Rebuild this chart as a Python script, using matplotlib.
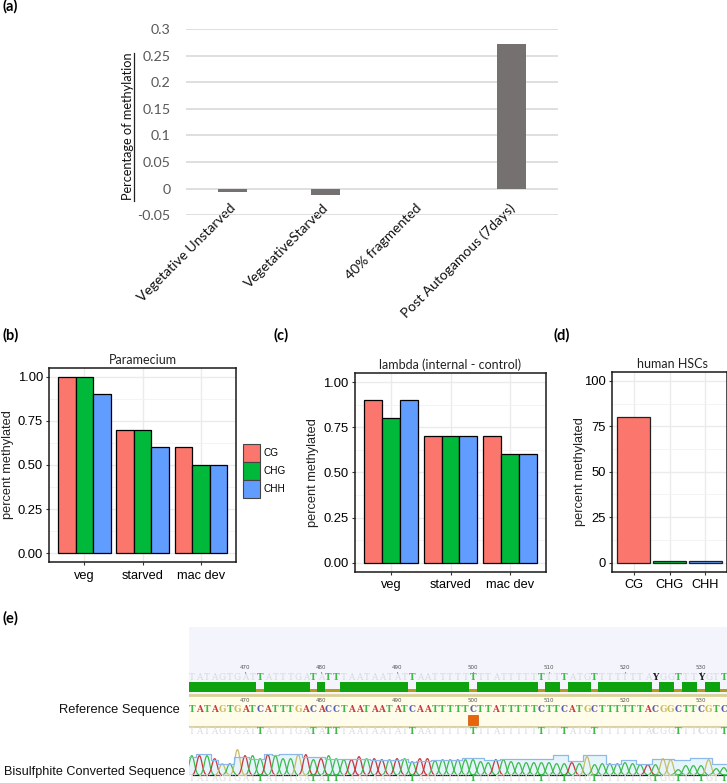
import matplotlib
matplotlib.use("Agg")
import matplotlib.pyplot as plt
from matplotlib.lines import Line2D
from matplotlib.patches import Patch, PathPatch
from matplotlib.path import Path
from matplotlib.transforms import ScaledTranslation

W, H = 727, 783

# panel a
a_labels = ["Vegetative Unstarved", "VegetativeStarved", "40% fragmented", "Post Autogamous (7days)"]
a_values = [-0.006, -0.012, 0.0, 0.273]
a_ticks = [-0.05, 0, 0.05, 0.1, 0.15, 0.2, 0.25, 0.3]
a_ticklabels = ["-0.05", "0", "0.05", "0.1", "0.15", "0.2", "0.25", "0.3"]

# panels b, c, d
contexts = ["CG", "CHG", "CHH"]
stages = ["veg", "starved", "mac dev"]
b_values = {"CG": [1.0, 0.7, 0.6], "CHG": [1.0, 0.7, 0.5], "CHH": [0.9, 0.6, 0.5]}
c_values = {"CG": [0.9, 0.7, 0.7], "CHG": [0.8, 0.7, 0.6], "CHH": [0.9, 0.7, 0.6]}
d_values = [80, 1, 1]
frac_ticks = [0, 0.25, 0.5, 0.75, 1.0]
frac_ticklabels = ["0.00", "0.25", "0.50", "0.75", "1.00"]
pct_ticks = [0, 25, 50, 75, 100]

# panel e
first_base = 463
seq_ticks = [470, 480, 490, 500, 510, 520, 530]
ref_seq = ("TATAGTG" "ATCATTTGAC" "ACCTAATAAT" "ATCAATTTTT" "CTTATTTTTC"
           "TTCATGCTTT" "TTTACGGCTT" "CGTC")
called_seq = ("TATAGTG" "ATTATTTGAT" "ATTTAATAAT" "ATTAATTTTT" "TTTATTTTTT"
              "TTTATGTTTT" "TTTAYGGTTT" "YGTT")
peak_heights = [19, 19, 19, 16, 11, 11, 25,
                19, 19, 16, 20, 19, 16, 16, 20, 20, 15,
                16, 19, 16, 15, 15, 18, 16, 16, 15, 15,
                16, 16, 13, 16, 16, 14, 15, 15, 15, 15,
                15, 13, 12, 15, 15, 13, 12, 12, 12, 12,
                12, 11, 11, 12, 11, 18, 10, 11, 11, 11,
                12, 11, 10, 10, 10, 16, 15, 5, 9, 9,
                9, 15, 6, 7]
quality = [18, 21, 21, 15, 11, 11, 18,
           18, 16, 16, 21, 20, 21, 21, 21, 18, 18,
           18, 16, 16, 16, 16, 16, 16, 15, 15, 15,
           15, 16, 13, 14, 14, 15, 15, 15, 15, 17,
           17, 17, 15, 15, 16, 16, 16, 16, 16, 16,
           16, 20, 20, 14, 14, 20, 20, 20, 11, 11,
           15, 15, 11, 11, 16, 16, 16, 15, 15, 17,
           17, 17, 11, 11]

fill_colors = {"CG": "#FB766D", "CHG": "#00B93A", "CHH": "#619CFF"}
base_colors = {"A": "#C8373F", "T": "#3DBB4A", "C": "#5A5FB5", "G": "#C9BC62", "Y": "#3DBB4A"}
GREY_TEXT = "#595959"

plt.rcParams["font.family"] = ["Liberation Sans", "DejaVu Sans"]


def px_axes(fig, left, top, right, bottom):
    return fig.add_axes([left / W, 1 - bottom / H, (right - left) / W, (bottom - top) / H])


def px_text(fig, x, y, s, **kw):
    return fig.text(x / W, 1 - y / H, s, **kw)


def gg_style(ax, title, yticks, yticklabels, minor, labelpad=3):
    ax.set_axisbelow(True)
    ax.set_yticks(yticks)
    ax.set_yticklabels(yticklabels, fontsize=9.4)
    ax.set_yticks(minor, minor=True)
    ax.grid(True, which="major", color="#EBEBEB", lw=1.0)
    ax.grid(True, which="minor", axis="y", color="#F2F2F2", lw=0.6)
    ax.tick_params(which="minor", length=0)
    ax.tick_params(which="major", length=2.5, width=0.8, color="#333333", pad=2)
    ax.tick_params(axis="x", labelsize=9.2, pad=3)
    ax.set_ylabel("percent methylated", fontsize=9.2, color="#222222", labelpad=labelpad)
    ax.set_title(title, fontsize=9, family="Lato", color="#222222", pad=3)
    for s in ax.spines.values():
        s.set_linewidth(1.1)
        s.set_color("#1A1A1A")


def grouped(ax, values):
    for i, ctx in enumerate(contexts):
        xs = [k + 1 + (i - 1) * 0.3 for k in range(len(stages))]
        ax.bar(xs, values[ctx], width=0.3, color=fill_colors[ctx], edgecolor="black", lw=0.9)
    ax.set_xticks([1, 2, 3])
    ax.set_xticklabels(stages)
    ax.set_xlim(0.4, 3.6)
    ax.set_ylim(-0.05, 1.05)


fig = plt.figure(figsize=(W / 100, H / 100), dpi=100)

# (a)
ax = px_axes(fig, 186, 29.5, 558, 215)
ax.bar(range(4), a_values, width=0.31, color="#767171", lw=0, zorder=3)
ax.set_xlim(-0.5, 3.5)
ax.set_ylim(-0.05, 0.3)
ax.set_yticks(a_ticks)
ax.set_yticklabels(a_ticklabels, family="Lato", fontsize=10.3, color=GREY_TEXT)
ax.set_xticks(range(4))
ax.set_xticklabels(a_labels, family="Lato", fontsize=10, rotation=45, ha="right",
                   va="top", rotation_mode="anchor", color="#111111")
ax.tick_params(axis="y", length=0, pad=11)
ax.tick_params(axis="x", length=0, pad=-9.7)
shift = ScaledTranslation(-3 / 100, 0, fig.dpi_scale_trans)
for lab in ax.get_xticklabels():
    lab.set_transform(lab.get_transform() + shift)
ax.grid(True, axis="y", color="#D9D9D9", lw=1.2)
ax.set_axisbelow(True)
for s in ax.spines.values():
    s.set_visible(False)
px_text(fig, 127.5, 126.5, "Percentage of methylation", family="Lato", fontsize=9.2, rotation=90,
        ha="center", va="center", color="#111111")
fig.add_artist(Line2D([134 / W, 134 / W], [1 - 201 / H, 1 - 53 / H], color="#222222", lw=0.9))

# (b)
ax = px_axes(fig, 49.3, 367.7, 236, 562.3)
grouped(ax, b_values)
gg_style(ax, "Paramecium", frac_ticks, frac_ticklabels, [0.125, 0.375, 0.625, 0.875])
handles = [Patch(facecolor=fill_colors[c], edgecolor="#444444", lw=0.8) for c in contexts]
fig.legend(handles, contexts, loc="upper left", bbox_to_anchor=(243 / W, 1 - 444 / H),
           frameon=False, fontsize=7.2, labelspacing=0, handlelength=1.7, handleheight=2.4,
           handletextpad=0.3, borderpad=0, borderaxespad=0)

# (c)
ax = px_axes(fig, 355, 373, 546, 571.7)
grouped(ax, c_values)
gg_style(ax, "lambda (internal - control)", frac_ticks, frac_ticklabels, [0.125, 0.375, 0.625, 0.875])

# (d)
ax = px_axes(fig, 612, 371.7, 727, 571.7)
ax.bar([1, 2, 3], d_values, width=0.9, color=[fill_colors[c] for c in contexts],
       edgecolor="#222222", lw=0.9)
ax.set_xticks([1, 2, 3])
ax.set_xticklabels(contexts)
ax.set_xlim(0.4, 3.6)
ax.set_ylim(-5, 105)
gg_style(ax, "human HSCs", pct_ticks, [str(v) for v in pct_ticks], [12.5, 37.5, 62.5, 87.5], labelpad=-1.3)
ax.title.set_x(0.525)

# (e)
ax = px_axes(fig, 189, 627, 727, 783)
ax.set_xlim(462.63, 533.42)
ax.set_ylim(783, 627)
ax.axis("off")
positions = [first_base + i for i in range(len(ref_seq))]
ax.axhspan(627, 694, color="#F3F4FC", lw=0)
ax.axhspan(694, 727, color="#FFFDE9", lw=0)
ax.axhline(694.5, color="#D8D19A", lw=2)
ax.axhline(727, color="#CFC99B", lw=1.2)

for n in seq_ticks:
    for y in (667.5, 701):
        ax.text(n, y, str(n), fontsize=4, color="#555555", ha="center", va="center", family="DejaVu Sans")
    ax.plot([n, n], [671.5, 672.5], color="#777777", lw=0.6)

serif = dict(family="DejaVu Serif", ha="center", va="center", fontsize=6.3)
for n, r, c in zip(positions, ref_seq, called_seq):
    changed = r != c
    if changed:
        ax.bar(n, 3.5, bottom=688.5, width=1, color="#B59B1E", lw=0)
        top_col = "#1F1F1F" if c == "Y" else base_colors["T"]
    else:
        ax.bar(n, 10, bottom=682, width=1.01, color="#0EA30E", lw=0)
        top_col = "#DADADA"
    weight = "bold" if changed else "normal"
    ax.text(n, 677, c, color=top_col, fontweight=weight, **serif)
    ax.text(n, 710, r, color=base_colors[r], fontweight="bold", **serif)
    low = r if r in "ATG" else c
    low_col = base_colors["T"] if (changed and c == "T") else "#DADADA"
    ax.text(n, 732, "C" if (c == "Y") else low, color=low_col, fontweight=weight, **serif)
    end_col = base_colors["T"] if changed else "#DADADA"
    ax.text(n, 778.8, "T" if changed else c, color=end_col, fontweight=weight, **serif)

ax.plot([500], [719.5], marker="s", ms=6.5, color="#E8650A", mec="#C8500A", mew=0.5, ls="none")

# chromatogram
base_y = 774.7
step_y = [base_y - q for q in quality]
edges = [p - 0.5 for p in positions] + [positions[-1] + 0.5]
ax.fill_between(edges, step_y + [step_y[-1]], base_y, step="post", color="#E6F5FC", lw=0)
ax.step(edges, step_y + [step_y[-1]], where="post", color="#8DB9E8", lw=0.9)
for n, c, h in zip(positions, called_seq, peak_heights):
    apex = base_y - h
    verts = [(n - 0.95, base_y), (n - 0.4, base_y), (n - 0.32, apex), (n, apex),
             (n + 0.32, apex), (n + 0.4, base_y), (n + 0.95, base_y)]
    codes = [Path.MOVETO] + [Path.CURVE4] * 6
    ax.add_patch(PathPatch(Path(verts, codes), fill=False, edgecolor=base_colors[c], lw=0.9))
for n, r in zip(positions, ref_seq):
    ax.plot([n + 0.1, n + 0.9], [base_y, base_y], color=base_colors[r] if r != "T" else "#222222", lw=0.9)

px_text(fig, 179.5, 710, "Reference Sequence", fontsize=9.3, ha="right", va="center", color="#111111")
px_text(fig, 185.5, 772.5, "Bisulfphite Converted Sequence", fontsize=9.1, ha="right", va="center", color="#111111")

# panel letters
for x, y, s in [(3, 6, "(a)"), (3, 335, "(b)"), (274, 335, "(c)"), (554, 335, "(d)"), (3, 618, "(e)")]:
    px_text(fig, x, y, s, family="Lato", fontweight="bold", fontsize=10.5, ha="left", va="center")

fig.savefig("out.png", dpi=100)
